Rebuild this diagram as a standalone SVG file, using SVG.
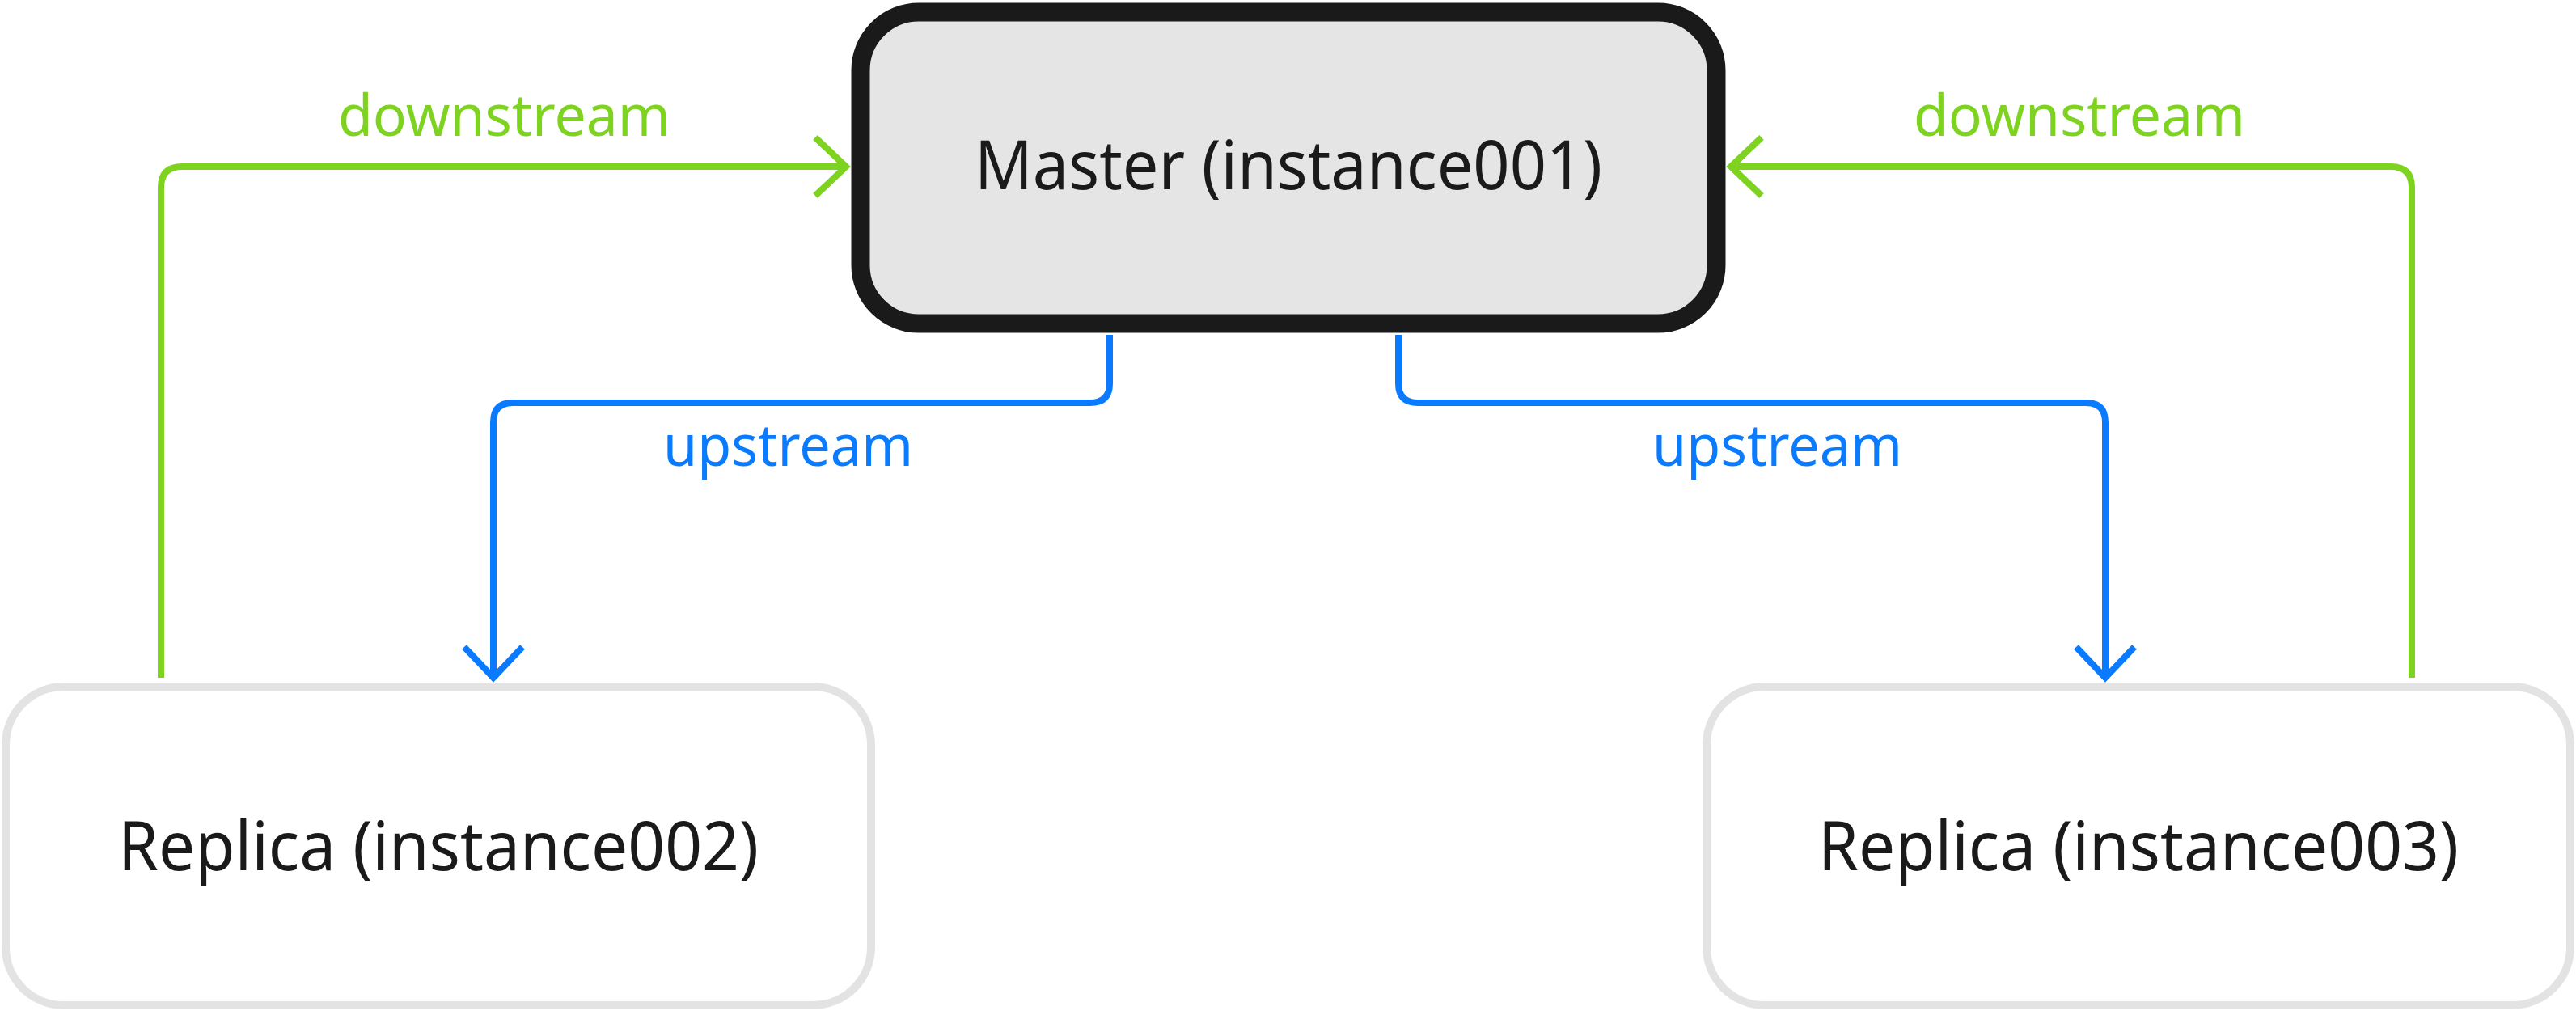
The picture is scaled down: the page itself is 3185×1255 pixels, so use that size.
<svg xmlns="http://www.w3.org/2000/svg" width="3185" height="1255" viewBox="0 0 3185 1255">
<style>
.lbl{font-family:"Liberation Sans Narrow","Noto Sans",sans-serif;}
.node{font-size:84px;fill:#1a1a1a;text-anchor:start;}
.edge{font-size:72px;}
.c{fill:none;stroke-width:8;stroke-linejoin:round;}
</style>
<defs>
<marker id="ag" markerUnits="userSpaceOnUse" markerWidth="100" markerHeight="100" viewBox="-50 -50 100 100" refX="0" refY="0" orient="auto" overflow="visible"><path d="M-38,-36 L0,0 L-38,36" fill="none" stroke="#7ed321" stroke-width="8"/></marker>
<marker id="ab" markerUnits="userSpaceOnUse" markerWidth="100" markerHeight="100" viewBox="-50 -50 100 100" refX="0" refY="0" orient="auto" overflow="visible"><path d="M-38,-36 L0,0 L-38,36" fill="none" stroke="#0a7bff" stroke-width="8"/></marker>
</defs>
<rect width="3185" height="1255" fill="#ffffff"/>
<g id="connectors">
<path class="c" stroke="#7ed321" d="M199,838 V232 Q199,206 225,206 H1046" marker-end="url(#ag)"/>
<path class="c" stroke="#7ed321" d="M2982,838 V232 Q2982,206 2956,206 H2140" marker-end="url(#ag)"/>
<path class="c" stroke="#0a7bff" d="M1372,414 V474 Q1372,498 1348,498 H634 Q610,498 610,522 V838" marker-end="url(#ab)"/>
<path class="c" stroke="#0a7bff" d="M1729,414 V474 Q1729,498 1753,498 H2579 Q2603,498 2603,522 V838" marker-end="url(#ab)"/>
<text class="lbl edge" fill="#7ed321" x="418" y="168" textLength="411" lengthAdjust="spacingAndGlyphs">downstream</text>
<text class="lbl edge" fill="#7ed321" x="2366" y="168" textLength="410" lengthAdjust="spacingAndGlyphs">downstream</text>
<text class="lbl edge" fill="#0a7bff" x="820" y="576" textLength="309" lengthAdjust="spacingAndGlyphs">upstream</text>
<text class="lbl edge" fill="#0a7bff" x="2043" y="576" textLength="309" lengthAdjust="spacingAndGlyphs">upstream</text>
</g>
<g id="master">
<rect x="1064" y="15" width="1058" height="385" rx="72" fill="#e5e5e5" stroke="#1a1a1a" stroke-width="23"/>
<text class="lbl node" x="1205" y="234" textLength="776" lengthAdjust="spacingAndGlyphs">Master (instance001)</text>
</g>
<g id="replica002">
<rect x="7" y="849" width="1070" height="394" rx="72" fill="#ffffff" stroke="#e3e3e3" stroke-width="10"/>
<text class="lbl node" x="146" y="1076" textLength="792" lengthAdjust="spacingAndGlyphs">Replica (instance002)</text>
</g>
<g id="replica003">
<rect x="2110" y="849" width="1068" height="394" rx="72" fill="#ffffff" stroke="#e3e3e3" stroke-width="10"/>
<text class="lbl node" x="2248" y="1076" textLength="792" lengthAdjust="spacingAndGlyphs">Replica (instance003)</text>
</g>
</svg>
